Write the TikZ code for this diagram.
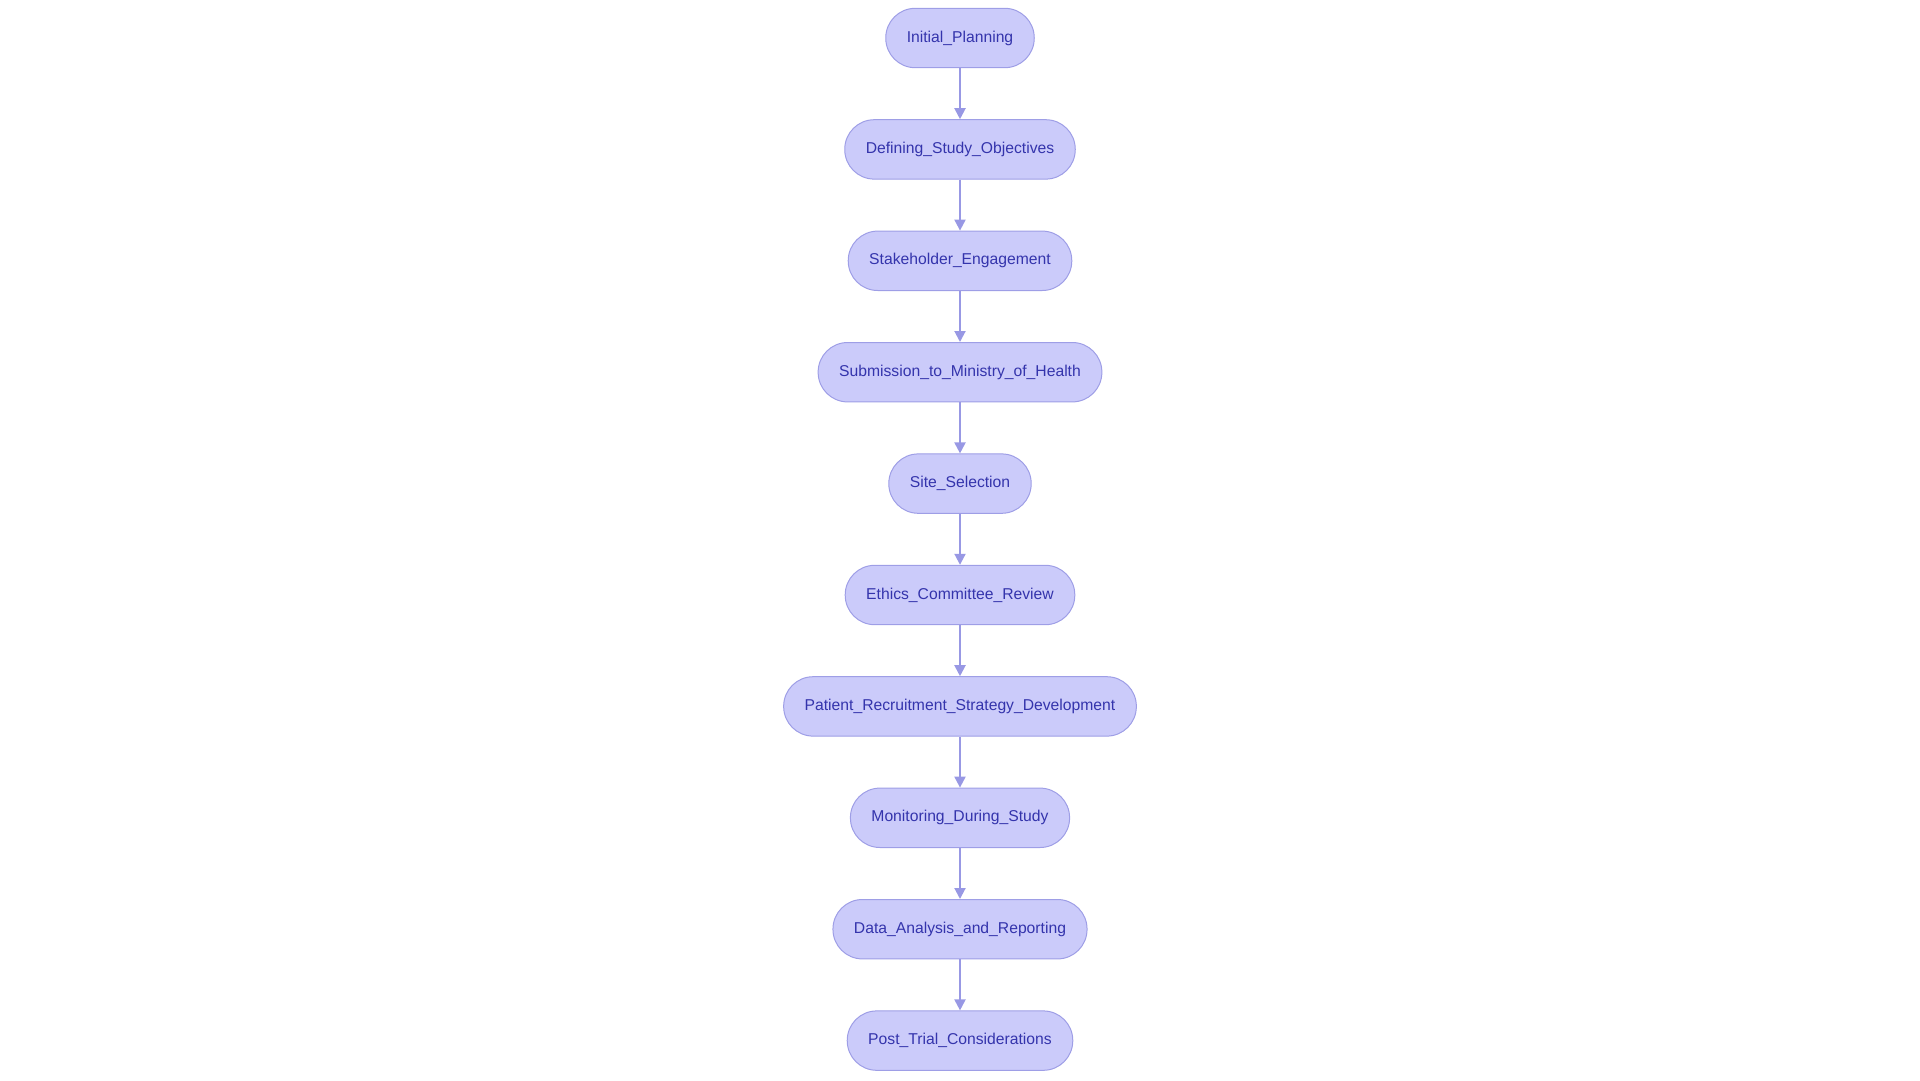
\documentclass[tikz,border=0pt]{standalone}
\usepackage{fontspec}
\setmainfont{Liberation Sans}
\usetikzlibrary{arrows.meta, positioning}

\definecolor{stepfill}{HTML}{CBCBFA}
\definecolor{stepdraw}{HTML}{9E9EE6}
\definecolor{steptext}{HTML}{3434AC}
\definecolor{linkcol}{HTML}{9898E4}

\begin{document}
\begin{tikzpicture}[
    x=1pt, y=1pt,
    node distance=51pt,
    stage/.style={rectangle, draw=stepdraw, fill=stepfill, line width=1pt, text=steptext, font=\fontsize{15.7}{18}\selectfont, rounded corners=29.5pt, minimum height=59.4pt, inner xsep=21pt},
    line/.style={draw=linkcol, line width=2pt, -{Triangle[length=11pt, width=11pt]}}
]
    \useasboundingbox (0,0) rectangle (1920,-1080);

    % Nodes
    \node[stage] (planning) at (960,-38) {Initial\_Planning};
    \node[stage, below=of planning] (objectives) {Defining\_Study\_Objectives};
    \node[stage, below=of objectives] (stakeholder) {Stakeholder\_Engagement};
    \node[stage, below=of stakeholder] (ministry) {Submission\_to\_Ministry\_of\_Health};
    \node[stage, below=of ministry] (site) {Site\_Selection};
    \node[stage, below=of site] (ethics) {Ethics\_Committee\_Review};
    \node[stage, below=of ethics] (recruitment) {Patient\_Recruitment\_Strategy\_Development};
    \node[stage, below=of recruitment] (monitoring) {Monitoring\_During\_Study};
    \node[stage, below=of monitoring] (analysis) {Data\_Analysis\_and\_Reporting};
    \node[stage, below=of analysis] (posttrial) {Post\_Trial\_Considerations};

    % Arrows
    \path[line] (planning) -- (objectives);
    \path[line] (objectives) -- (stakeholder);
    \path[line] (stakeholder) -- (ministry);
    \path[line] (ministry) -- (site);
    \path[line] (site) -- (ethics);
    \path[line] (ethics) -- (recruitment);
    \path[line] (recruitment) -- (monitoring);
    \path[line] (monitoring) -- (analysis);
    \path[line] (analysis) -- (posttrial);

\end{tikzpicture}
\end{document}
